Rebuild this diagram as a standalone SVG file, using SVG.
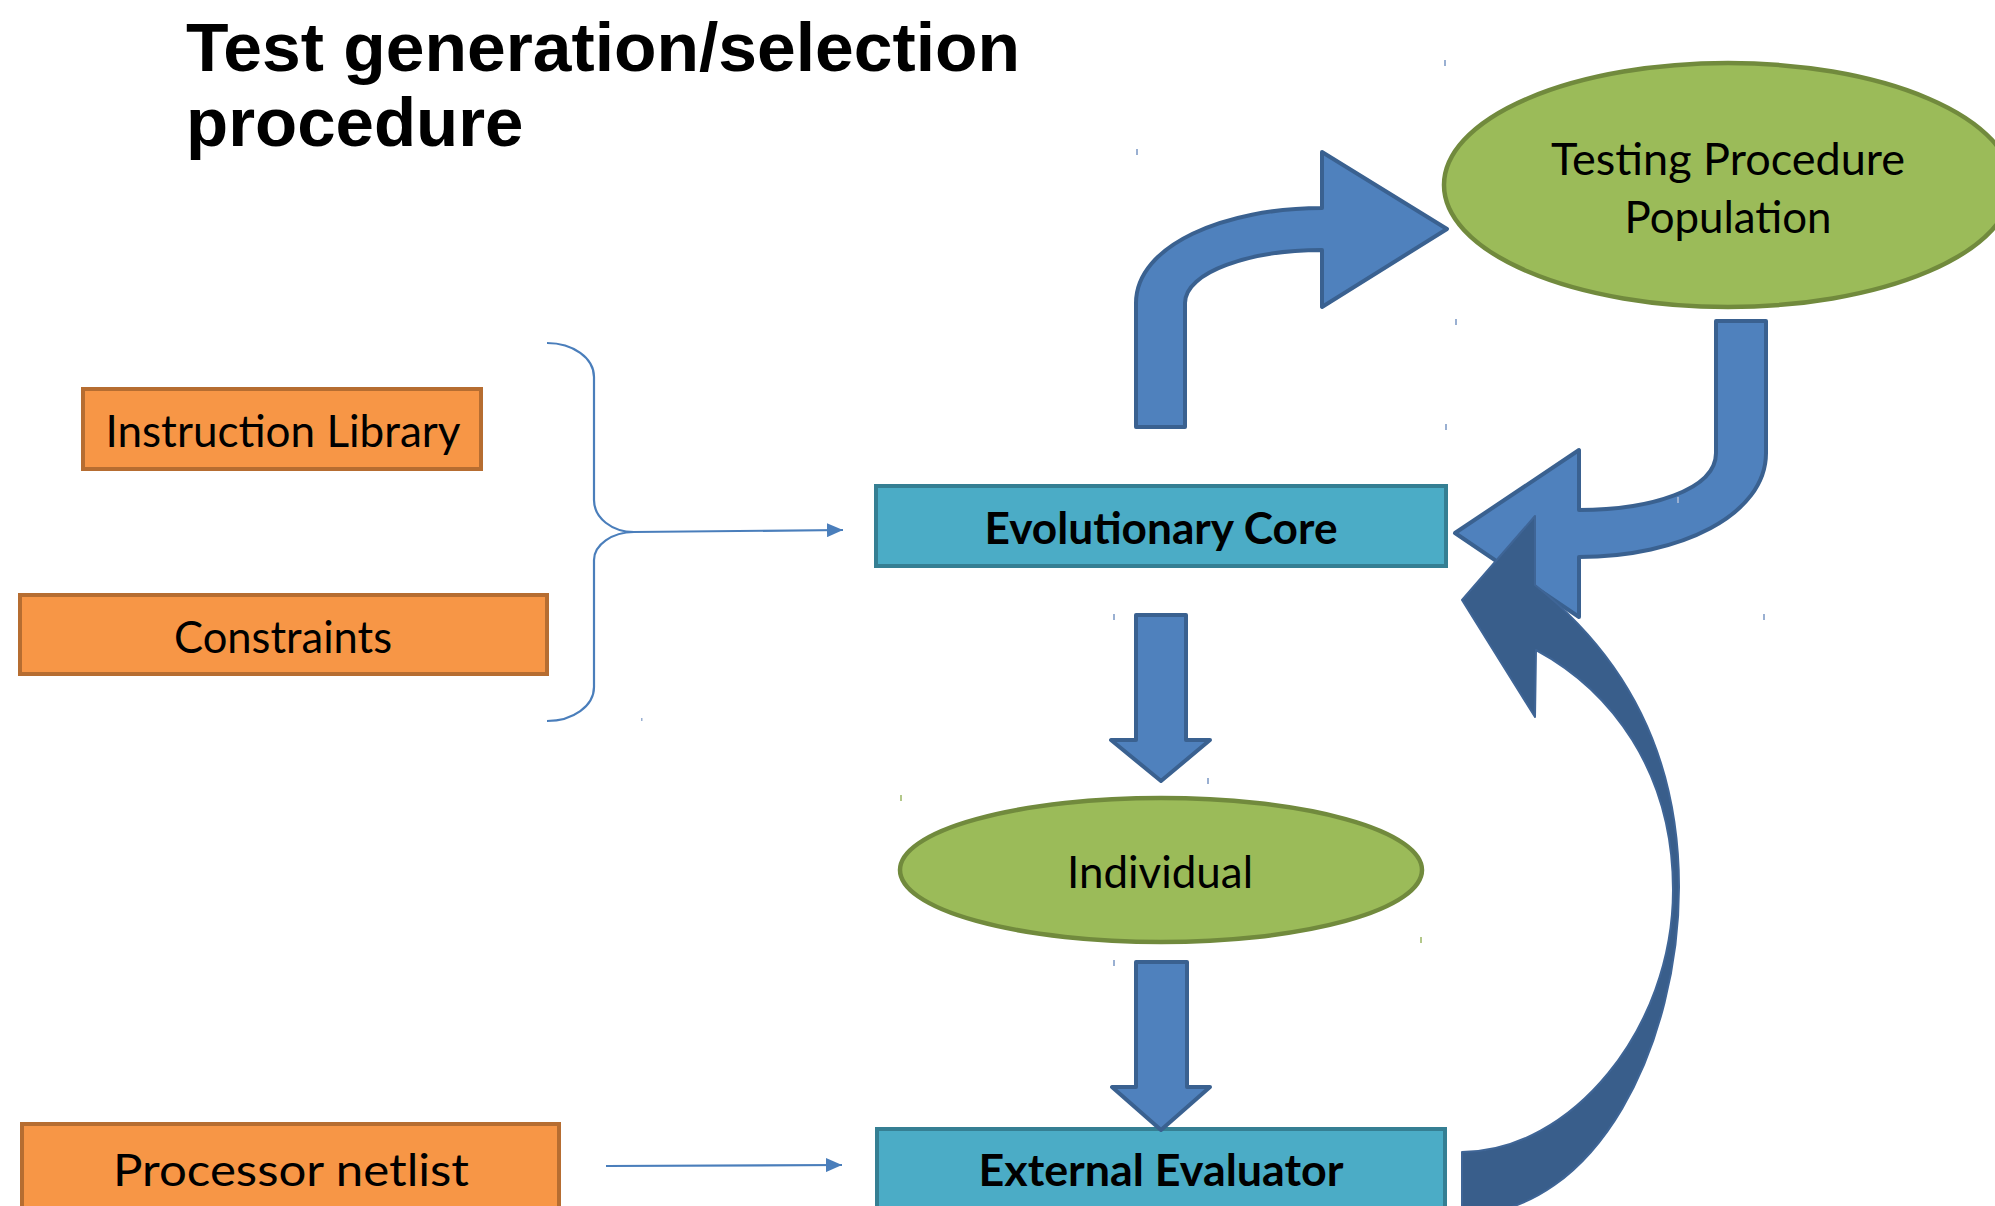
<svg xmlns="http://www.w3.org/2000/svg" width="1995" height="1206" viewBox="0 0 1995 1206">
  <style>
    .title { font-family: "Liberation Sans", Arial, sans-serif; font-weight: bold; font-size: 69px; fill: #000; }
    .lbl { font-family: Lato, "Open Sans", sans-serif; font-size: 45px; fill: #000; text-anchor: middle; }
    .lbl-b { font-family: Lato, "Open Sans", sans-serif; font-weight: bold; font-size: 44px; fill: #000; text-anchor: middle; }
    .orange { fill: #F79646; stroke: #B66D31; stroke-width: 4; }
    .teal { fill: #4BACC6; stroke: #357F93; stroke-width: 4; }
    .green { fill: #9BBB59; stroke: #718A3D; stroke-width: 4.5; }
    .blk-arrow { fill: #4F81BD; stroke: #3A6190; stroke-width: 4; stroke-linejoin: round; }
    .dark-arrow { fill: #395E8B; stroke: #3F6596; stroke-width: 2; stroke-linejoin: round; }
    .link { fill: none; stroke: #4A7EBB; stroke-width: 2.2; }
    .tick { fill: #9AB0D2; }
    .tick-g { fill: #B3C88A; }
  </style>
  <defs>
    <marker id="tri" markerUnits="userSpaceOnUse" markerWidth="16" markerHeight="14" refX="16" refY="7" orient="auto">
      <path d="M0,0 L16,7 L0,14 Z" fill="#4A7EBB"/>
    </marker>
  </defs>

  <rect width="1995" height="1206" fill="#FFFFFF"/>

  <!-- heading -->
  <text class="title" x="186" y="71" textLength="834" lengthAdjust="spacingAndGlyphs">Test generation/selection</text>
  <text class="title" x="186" y="146">procedure</text>

  <!-- input blocks -->
  <g id="instruction-library">
    <rect class="orange" x="83" y="389" width="398" height="80"/>
    <text class="lbl" x="283" y="447" textLength="355" lengthAdjust="spacingAndGlyphs">Instruction Library</text>
  </g>
  <g id="constraints">
    <rect class="orange" x="20" y="595" width="527" height="79"/>
    <text class="lbl" x="283" y="653" textLength="218" lengthAdjust="spacingAndGlyphs">Constraints</text>
  </g>
  <g id="processor-netlist">
    <rect class="orange" x="22" y="1124" width="537" height="84"/>
    <text class="lbl" x="291" y="1186" font-size="48" textLength="356" lengthAdjust="spacingAndGlyphs">Processor netlist</text>
  </g>

  <!-- core loop -->
  <g id="evolutionary-core">
    <rect class="teal" x="876" y="486" width="570" height="80"/>
    <text class="lbl-b" x="1161" y="544" textLength="353" lengthAdjust="spacingAndGlyphs">Evolutionary Core</text>
  </g>
  <g id="individual">
    <ellipse class="green" cx="1161" cy="870" rx="261" ry="72"/>
    <text class="lbl" x="1160" y="888" textLength="186" lengthAdjust="spacingAndGlyphs">Individual</text>
  </g>
  <g id="external-evaluator">
    <rect class="teal" x="877" y="1129" width="568" height="80"/>
    <text class="lbl-b" x="1161" y="1186" textLength="365" lengthAdjust="spacingAndGlyphs">External Evaluator</text>
  </g>
  <g id="testing-procedure-population">
    <ellipse class="green" cx="1728" cy="185" rx="284" ry="122"/>
    <text class="lbl" x="1728" y="175" textLength="354" lengthAdjust="spacingAndGlyphs">Testing Procedure</text>
    <text class="lbl" x="1728" y="233" textLength="207" lengthAdjust="spacingAndGlyphs">Population</text>
  </g>

  <g id="connectors">
    <!-- brace gathering the two inputs -->
    <path class="link" d="M547,343 C573,343 594,358 594,377 L594,500 C594,518 612,532 634,532 C612,532 594,545 594,560 L594,687 C594,706 573,721 547,721"/>
    <path class="link" d="M634,532 L843,530" marker-end="url(#tri)"/>
    <path class="link" d="M606,1166 L842,1165" marker-end="url(#tri)"/>

    <!-- core -> population (curved up) -->
    <path class="blk-arrow" d="M1136,427 L1136,303 C1136,245 1225,208 1322,208 L1322,152 L1447,229 L1322,307 L1322,250 C1250,250 1185,272 1185,303 L1185,427 Z"/>

    <!-- population -> core (curved down-left) -->
    <path class="blk-arrow" d="M1716,321 L1766,321 L1766,453 C1766,515 1680,557 1579,557 L1579,617 L1455,533 L1579,450 L1579,510 C1650,510 1716,490 1716,453 Z"/>

    <!-- core -> individual -->
    <path class="blk-arrow" d="M1136,615 L1186,615 L1186,740 L1210,740 L1161,781 L1111,740 L1136,740 Z"/>

    <!-- individual -> evaluator -->
    <path class="blk-arrow" d="M1136,962 L1187,962 L1187,1087 L1210,1087 L1161,1130 L1112,1087 L1136,1087 Z"/>

    <!-- evaluator feedback to core -->
    <path class="dark-arrow" d="M1535,516 L1462,600 L1535,717 L1536,650 C1610,690 1673,770 1673,890 C1673,1030 1570,1152 1462,1152 L1462,1215 C1600,1215 1679,1040 1679,887 C1679,760 1630,660 1535,585 Z"/>
  </g>

  <!-- small corner marks -->
  <g id="marks">
    <rect class="tick" x="1136" y="149" width="2" height="6"/>
    <rect class="tick" x="1444" y="60" width="2" height="6"/>
    <rect class="tick" x="1455" y="319" width="2" height="6"/>
    <rect class="tick" x="1445" y="424" width="2" height="6"/>
    <rect class="tick" x="1113" y="614" width="2" height="6"/>
    <rect class="tick" x="1763" y="614" width="2" height="6"/>
    <rect class="tick" x="1677" y="497" width="2" height="6"/>
    <rect class="tick" x="1207" y="778" width="2" height="6"/>
    <rect class="tick" x="1113" y="960" width="2" height="6"/>
    <rect class="tick-g" x="900" y="795" width="2" height="6"/>
    <rect class="tick-g" x="1420" y="937" width="2" height="6"/>
    <rect class="tick" x="641" y="718" width="1.5" height="3"/>
  </g>
</svg>
